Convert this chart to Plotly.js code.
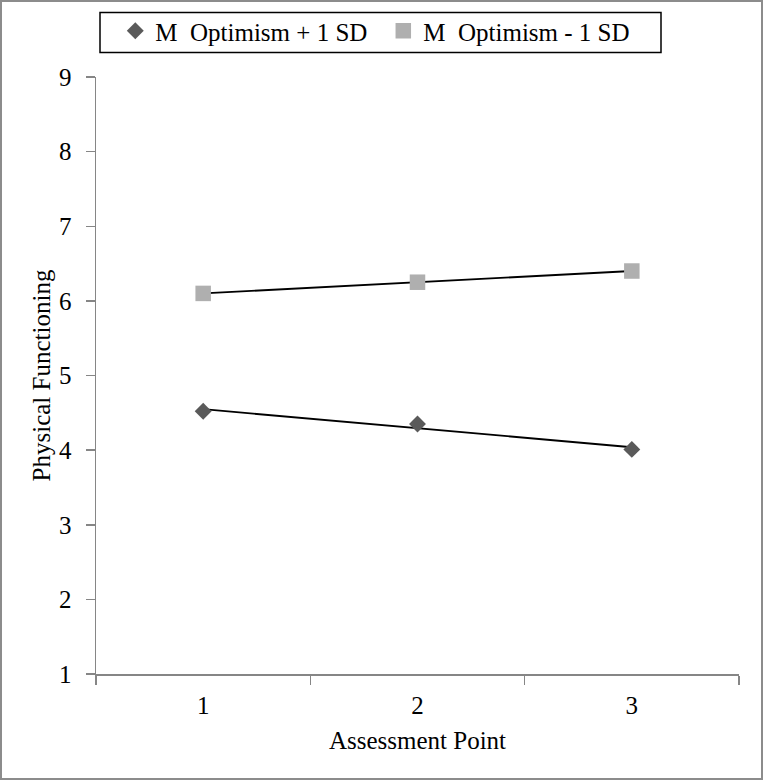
<!DOCTYPE html>
<html>
<head>
<meta charset="utf-8">
<script src="https://cdn.plot.ly/plotly-3.0.1.min.js"></script>
<style>
  html, body { margin: 0; padding: 0; background: #fff; }
  #wrap { position: relative; width: 763px; height: 780px; }
  #chart { width: 763px; height: 780px; }
  #frame { position: absolute; left: 0; top: 0; width: 763px; height: 780px; box-sizing: border-box;
           border: 2px solid #8c8c8c; pointer-events: none; }
</style>
</head>
<body>
<div id="wrap"><div id="chart"></div><div id="frame"></div></div>
<script>
// ---- data ----
const categories = ['1', '2', '3'];
const seriesHighName = 'M\u00a0 Optimism + 1 SD';
const seriesLowName = 'M\u00a0 Optimism - 1 SD';
const highOptimism = [4.52, 4.35, 4.01];
const lowOptimism = [6.10, 6.25, 6.40];
const yTickValues = [1, 2, 3, 4, 5, 6, 7, 8, 9];

// linear trend line (least squares) from the data
function trend(vals) {
  const n = vals.length;
  const xs = vals.map((_, i) => i + 1);
  const mx = xs.reduce((a, b) => a + b, 0) / n;
  const my = vals.reduce((a, b) => a + b, 0) / n;
  let sxy = 0, sxx = 0;
  for (let i = 0; i < n; i++) { sxy += (xs[i] - mx) * (vals[i] - my); sxx += (xs[i] - mx) ** 2; }
  const b = sxy / sxx, a = my - b * mx;
  return [a + b * xs[0], a + b * xs[n - 1]];
}
const trendHigh = trend(highOptimism);
const trendLow = trend(lowOptimism);
const trendX = [categories[0], categories[categories.length - 1]];

const FONT = 'Liberation Serif';

const traces = [
  { x: trendX, y: trendHigh, type: 'scatter', mode: 'lines', line: { color: '#000', width: 1.8 },
    showlegend: false, hoverinfo: 'skip' },
  { x: trendX, y: trendLow, type: 'scatter', mode: 'lines', line: { color: '#000', width: 1.8 },
    showlegend: false, hoverinfo: 'skip' },
  { x: categories, y: highOptimism, name: seriesHighName, type: 'scatter', mode: 'markers',
    marker: { symbol: 'diamond', size: 13, color: '#5a5a5a' } },
  { x: categories, y: lowOptimism, name: seriesLowName, type: 'scatter', mode: 'markers',
    marker: { symbol: 'square', size: 15.5, color: '#afafaf' } }
];

const layout = {
  width: 763, height: 780,
  margin: { l: 96, r: 24, t: 77, b: 106, autoexpand: false },
  paper_bgcolor: '#fff', plot_bgcolor: '#fff',
  font: { family: FONT, size: 25, color: '#000' },
  showlegend: true,
  legend: {
    orientation: 'h', x: 0.03, xanchor: 'left', y: 1.077, yanchor: 'middle',
    font: { family: FONT, size: 25, color: '#000' },
    entrywidth: 223, entrywidthmode: 'pixels', itemwidth: 30,
    bgcolor: 'rgba(0,0,0,0)', borderwidth: 0
  },
  xaxis: {
    type: 'category', categoryorder: 'array', categoryarray: categories,
    range: [-0.5, 2.5], tickson: 'boundaries',
    showline: true, linecolor: '#868686', linewidth: 1.5,
    ticks: 'outside', ticklen: 9, tickcolor: '#868686', tickwidth: 1.5,
    ticklabelstandoff: 8,
    showgrid: false, zeroline: false,
    tickfont: { family: FONT, size: 25, color: '#000' },
    title: { text: 'Assessment Point', font: { family: FONT, size: 25, color: '#000' }, standoff: 14 },
    fixedrange: true
  },
  yaxis: {
    range: [1, 9], tickmode: 'array', tickvals: yTickValues, ticktext: yTickValues.map(String),
    showline: true, linecolor: '#868686', linewidth: 1.5,
    ticks: 'outside', ticklen: 9, tickcolor: '#868686', tickwidth: 1.5,
    ticklabelstandoff: 9,
    showgrid: false, zeroline: false,
    tickfont: { family: FONT, size: 25, color: '#000' },
    title: { text: 'Physical Functioning', font: { family: FONT, size: 25, color: '#000' }, standoff: 1 },
    fixedrange: true
  },
  shapes: [
    { type: 'rect', xref: 'paper', yref: 'paper',
      x0: (100 - 96) / 643, x1: (661 - 96) / 643,
      y0: 1 + (77 - 52.5) / 597, y1: 1 + (77 - 12.5) / 597,
      line: { color: '#000', width: 1.5 }, fillcolor: 'rgba(0,0,0,0)' }
  ]
};

Plotly.newPlot('chart', traces, layout, { displayModeBar: false, staticPlot: true });
</script>
</body>
</html>
